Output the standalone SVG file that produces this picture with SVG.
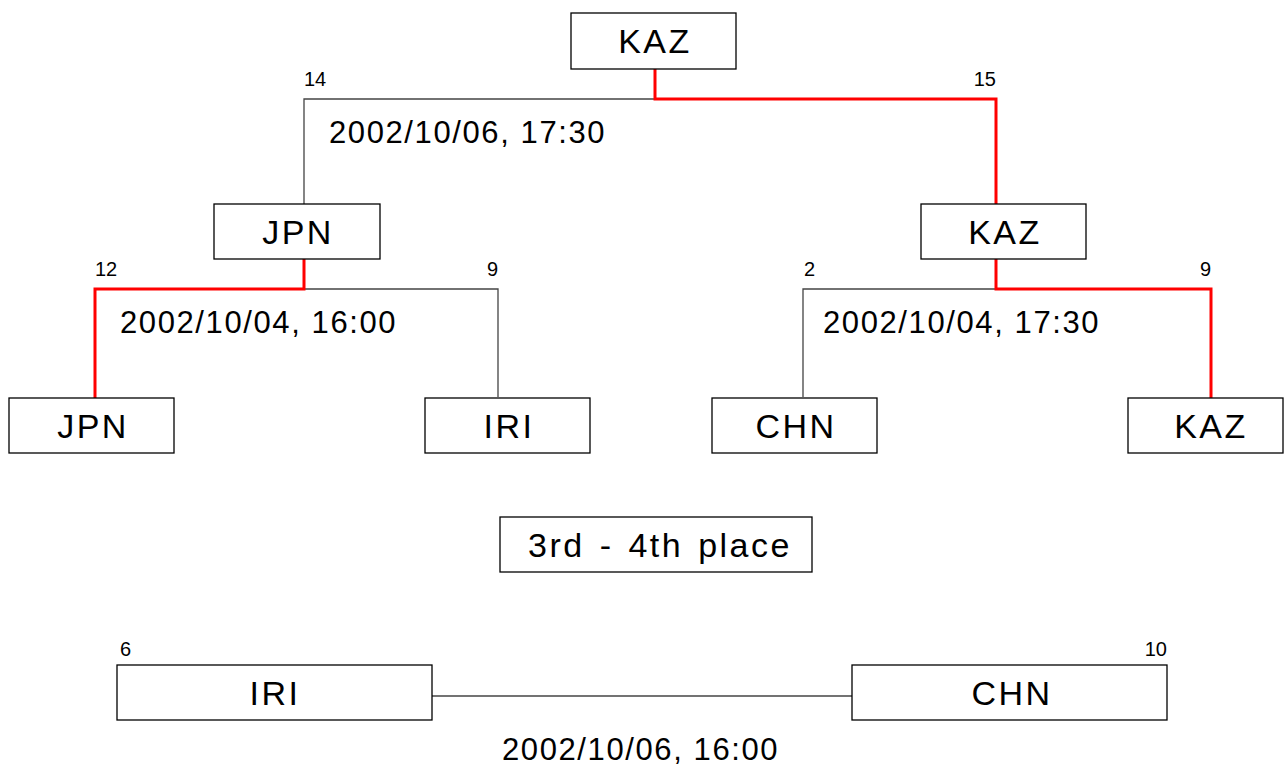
<svg xmlns="http://www.w3.org/2000/svg" width="1284" height="766" viewBox="0 0 1284 766">
<style>
.box{fill:#fff;stroke:#000;stroke-width:1.3}
.t{font-family:"Liberation Sans",Arial,sans-serif;font-size:34px;fill:#000;text-anchor:middle;letter-spacing:2.5px}
.d{font-family:"Liberation Sans",Arial,sans-serif;font-size:31px;fill:#000;letter-spacing:1.6px}
.n{font-family:"Liberation Sans",Arial,sans-serif;font-size:20px;fill:#000}
.g{fill:none;stroke:#444;stroke-width:1.3}
.r{fill:none;stroke:#f00;stroke-width:3}
</style>
<rect width="1284" height="766" fill="#fff"/>
<g id="connectors">
<polyline class="g" points="655,99 304,99 304,205"/>
<polyline class="r" points="655,69 655,99 996,99 996,205"/>
<polyline class="g" points="304,289 498,289 498,397"/>
<polyline class="r" points="304,259 304,289 95,289 95,398"/>
<polyline class="g" points="996,289 803,289 803,397"/>
<polyline class="r" points="996,259 996,289 1211,289 1211,398"/>
<line class="g" x1="432" y1="696" x2="852" y2="696" stroke="#000"/>
</g>
<g id="labels">
<text class="n" x="304" y="86">14</text>
<text class="n" x="996" y="86" text-anchor="end">15</text>
<text class="d" x="329" y="143">2002/10/06, 17:30</text>
<text class="n" x="95" y="276">12</text>
<text class="n" x="498" y="276" text-anchor="end">9</text>
<text class="d" x="120" y="333">2002/10/04, 16:00</text>
<text class="n" x="804" y="276">2</text>
<text class="n" x="1211" y="276" text-anchor="end">9</text>
<text class="d" x="823" y="333">2002/10/04, 17:30</text>
<text class="n" x="120" y="656">6</text>
<text class="n" x="1167" y="656" text-anchor="end">10</text>
<text class="d" x="502" y="760">2002/10/06, 16:00</text>
</g>
<g id="final"><rect class="box" x="571" y="13" width="165" height="56"/><text class="t" x="655" y="53">KAZ</text></g>
<g id="semi1"><rect class="box" x="214" y="204" width="166" height="55"/><text class="t" x="298" y="244">JPN</text></g>
<g id="semi2"><rect class="box" x="921" y="204" width="165" height="55"/><text class="t" x="1005" y="244">KAZ</text></g>
<g id="qf1"><rect class="box" x="9" y="398" width="165" height="55"/><text class="t" x="93" y="438">JPN</text></g>
<g id="qf2"><rect class="box" x="425" y="398" width="165" height="55"/><text class="t" x="509" y="438">IRI</text></g>
<g id="qf3"><rect class="box" x="712" y="398" width="165" height="55"/><text class="t" x="796" y="438">CHN</text></g>
<g id="qf4"><rect class="box" x="1128" y="398" width="155" height="55"/><text class="t" x="1211" y="438">KAZ</text></g>
<g id="third"><rect class="box" x="500" y="517" width="312" height="55"/><text class="t" x="660" y="557" style="word-spacing:3px">3rd - 4th place</text></g>
<g id="b1"><rect class="box" x="117" y="665" width="315" height="55"/><text class="t" x="275" y="705">IRI</text></g>
<g id="b2"><rect class="box" x="852" y="665" width="315" height="55"/><text class="t" x="1012" y="705">CHN</text></g>
</svg>
